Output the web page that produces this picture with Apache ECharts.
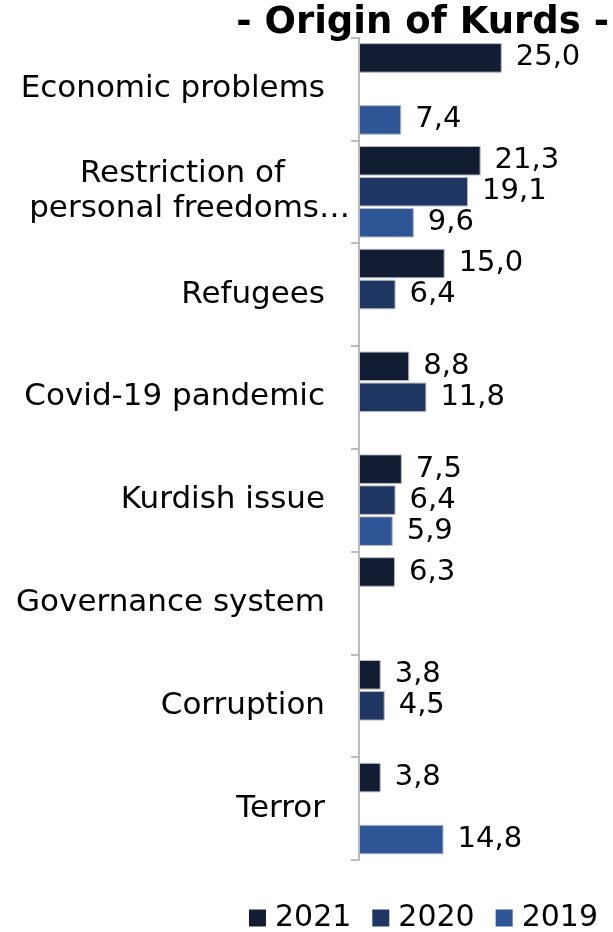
<!DOCTYPE html>
<html>
<head>
<meta charset="utf-8">
<script src="https://cdn.jsdelivr.net/npm/echarts@6/dist/echarts.min.js"></script>
<style>
html,body{margin:0;padding:0;background:#fff;}
#chart{width:613px;height:932px;}
</style>
</head>
<body>
<div id="chart"></div>
<script>
var categories = ['Economic problems', 'Restriction of personal freedoms…', 'Refugees', 'Covid-19 pandemic', 'Kurdish issue', 'Governance system', 'Corruption', 'Terror'];
var seriesNames = ['2021', '2020', '2019'];
var values2021 = [25.0, 21.3, 15.0, 8.8, 7.5, 6.3, 3.8, 3.8];
var values2020 = [null, 19.1, 6.4, 11.8, 6.4, null, 4.5, null];
var values2019 = [7.4, 9.6, null, null, 5.9, null, null, 14.8];
var colors = ['#121c33', '#1f3562', '#2e5596'];

var FONT = 'DejaVu Sans, Verdana, sans-serif';
var chart = echarts.init(document.getElementById('chart'), null, {renderer: 'canvas'});

function fmt(p) { return p.value == null ? '' : p.value.toFixed(1).replace('.', ','); }

function mkSeries(name, data, color) {
  return {
    name: name,
    type: 'bar',
    data: data,
    barGap: '5%',
    barCategoryGap: '11%',
    itemStyle: {color: color, borderColor: '#b4b8c2', borderWidth: 1},
    label: {
      show: true, position: 'right', distance: 14,
      formatter: fmt, color: '#000', fontFamily: FONT, fontSize: 29
    }
  };
}

chart.setOption({
  backgroundColor: '#fff',
  animation: false,
  title: {
    text: '- Origin of Kurds -',
    right: -1, top: 0,
    textStyle: {fontFamily: FONT, fontWeight: 'bold', fontSize: 37, color: '#000'}
  },
  legend: {
    data: seriesNames,
    right: 10, bottom: -6,
    icon: 'rect', itemWidth: 17, itemHeight: 17, itemGap: 21,
    itemStyle: {borderWidth: 0},
    textStyle: {fontFamily: FONT, fontSize: 30, color: '#000', padding: [0, 0, 0, 4]}
  },
  grid: {left: 359, top: 37.5, width: 228.4, bottom: 72, containLabel: false},
  xAxis: {
    type: 'value', min: 0, max: 40,
    axisLine: {show: false}, axisTick: {show: false},
    axisLabel: {show: false}, splitLine: {show: false}
  },
  yAxis: {
    type: 'category', data: categories, inverse: true,
    axisLine: {show: true, lineStyle: {color: '#a6a6a6', width: 1.5}},
    axisTick: {show: true, length: 8, lineStyle: {color: '#a6a6a6', width: 1.5}},
    axisLabel: {
      margin: 9, fontFamily: FONT, fontSize: 31, color: '#000', align: 'right',
      formatter: function (v) {
        if (v.indexOf('Restriction') === 0) {
          return '{r1|Restriction of}\n{r2|personal freedoms…}';
        }
        return '{n|' + v + '}';
      },
      rich: {
        n: {fontFamily: FONT, fontSize: 31, color: '#000', padding: [0, 25, 0, 0]},
        r1: {fontFamily: FONT, fontSize: 31, color: '#000', padding: [0, 65, 0, 0], lineHeight: 35},
        r2: {fontFamily: FONT, fontSize: 31, color: '#000', lineHeight: 35}
      }
    }
  },
  series: [
    mkSeries(seriesNames[0], values2021, colors[0]),
    mkSeries(seriesNames[1], values2020, colors[1]),
    mkSeries(seriesNames[2], values2019, colors[2])
  ]
});
</script>
</body>
</html>
